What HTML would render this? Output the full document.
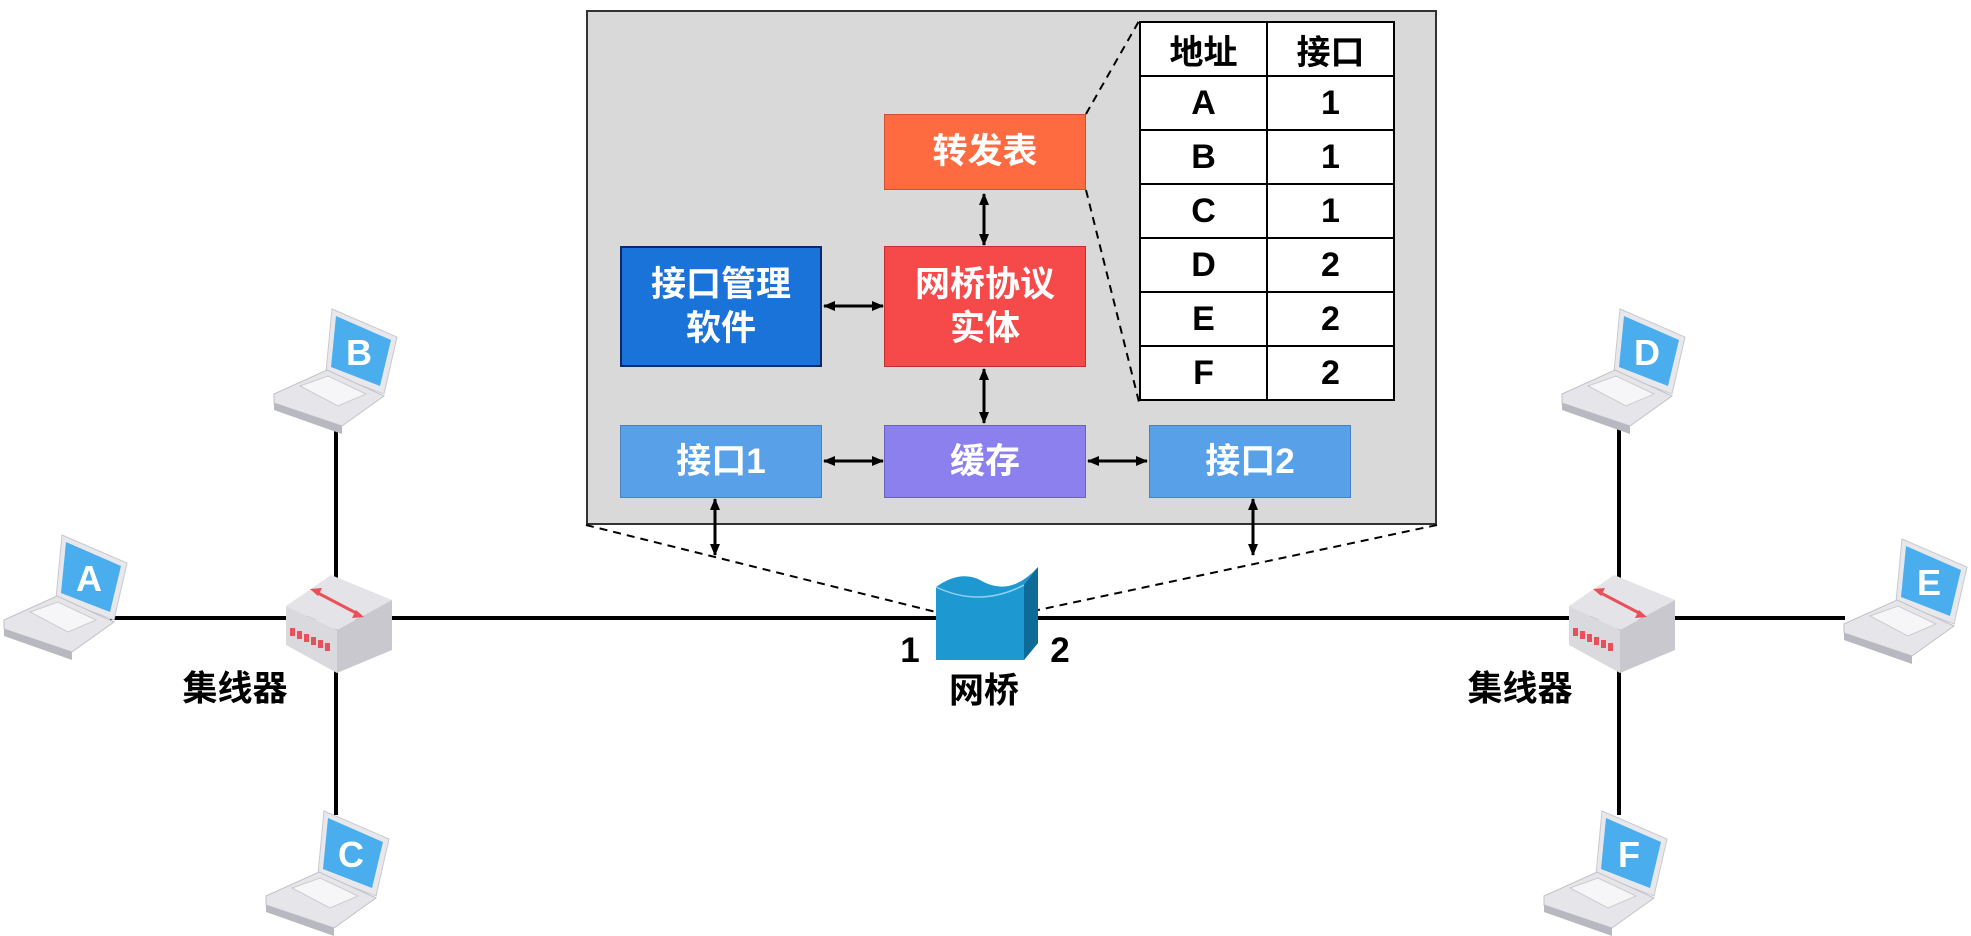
<!DOCTYPE html>
<html><head><meta charset="utf-8"><style>
body{margin:0;background:#fff;width:1971px;height:936px;overflow:hidden;position:relative;font-family:"Liberation Sans","Noto Sans CJK SC",sans-serif;}
.b{position:absolute;color:#fff;font-weight:bold;font-size:35px;display:flex;align-items:center;justify-content:center;text-align:center;line-height:44px;box-sizing:border-box;}
.l{position:absolute;font-weight:bold;font-size:35px;color:#000;transform:translate(-50%,-50%);white-space:nowrap;}
table{position:absolute;left:1139px;top:21px;border-collapse:collapse;background:#fff;}
td{border:2.5px solid #000;width:125px;height:52px;text-align:center;font-weight:bold;font-size:34px;padding:0;}
</style></head><body>
<div style="position:absolute;left:586px;top:10px;width:851px;height:515px;background:#d9d9d9;border:2px solid #333;box-sizing:border-box"></div>
<table>
<tr><td>地址</td><td>接口</td></tr>
<tr><td>A</td><td>1</td></tr>
<tr><td>B</td><td>1</td></tr>
<tr><td>C</td><td>1</td></tr>
<tr><td>D</td><td>2</td></tr>
<tr><td>E</td><td>2</td></tr>
<tr><td>F</td><td>2</td></tr>
</table>
<div class="b" style="left:884px;top:114px;width:202px;height:76px;background:#ff6b40;border:1px solid #d05030">转发表</div>
<div class="b" style="left:620px;top:246px;width:202px;height:121px;background:#1a73d9;border:2px solid #0a2a6a">接口管理<br>软件</div>
<div class="b" style="left:884px;top:246px;width:202px;height:121px;background:#f64a4a;border:1px solid #c03030">网桥协议<br>实体</div>
<div class="b" style="left:620px;top:425px;width:202px;height:73px;background:#58a0e8;border:1px solid #4a80c0">接口1</div>
<div class="b" style="left:884px;top:425px;width:202px;height:73px;background:#8b80ee;border:1px solid #6a60c0">缓存</div>
<div class="b" style="left:1149px;top:425px;width:202px;height:73px;background:#58a0e8;border:1px solid #4a80c0">接口2</div>
<svg style="position:absolute;left:0;top:0" width="1971" height="936">
<defs>
<marker id="a" markerWidth="12" markerHeight="10" refX="11" refY="5" orient="auto-start-reverse" markerUnits="userSpaceOnUse"><path d="M0,0L12,5L0,10z" fill="#000"/></marker>
<g id="lap">
<polygon points="62,3 127,31 114,88 56,66" fill="#e8e8ec" stroke="#c8c8d0"/>
<polygon points="66,10 121,34 110,80 61,61" fill="#4aaeee"/>
<polygon points="4,88 57,64 114,90 72,120 4,97" fill="#e6e6ea" stroke="#c0c0c8"/>
<polygon points="4,97 72,120 72,128 4,104" fill="#b8b8c0"/>
<polygon points="30,80 58,70 96,88 68,100" fill="#f6f6f8" stroke="#ccc"/>
</g>
</defs>
<g stroke="#000" stroke-width="3" fill="none">
<line x1="984" y1="194" x2="984" y2="245" marker-start="url(#a)" marker-end="url(#a)"/>
<line x1="984" y1="369" x2="984" y2="423" marker-start="url(#a)" marker-end="url(#a)"/>
<line x1="824" y1="306" x2="883" y2="306" marker-start="url(#a)" marker-end="url(#a)"/>
<line x1="824" y1="461" x2="883" y2="461" marker-start="url(#a)" marker-end="url(#a)"/>
<line x1="1088" y1="461" x2="1147" y2="461" marker-start="url(#a)" marker-end="url(#a)"/>
<line x1="715" y1="499" x2="715" y2="555" marker-start="url(#a)" marker-end="url(#a)"/>
<line x1="1253" y1="499" x2="1253" y2="555" marker-start="url(#a)" marker-end="url(#a)"/>
</g>
<g stroke="#000" stroke-width="2" stroke-dasharray="8,6">
<line x1="586" y1="525" x2="936" y2="612"/>
<line x1="1437" y1="525" x2="1038" y2="610"/>
<line x1="1086" y1="114" x2="1139" y2="21"/>
<line x1="1086" y1="190" x2="1139" y2="402"/>
</g>
<g stroke="#000" stroke-width="4">
<line x1="110" y1="618" x2="1845" y2="618"/>
<line x1="336" y1="425" x2="336" y2="815"/>
<line x1="1619" y1="425" x2="1619" y2="815"/>
</g>
<g id="hub">
<polygon points="286,606 331,575 392,600 337,630" fill="#e4e4e8"/>
<polygon points="286,606 337,630 337,673 286,645" fill="#dadade"/>
<polygon points="337,630 392,600 392,650 337,673" fill="#c8c8ce"/>
<line x1="316" y1="592" x2="358" y2="614" stroke="#e8505a" stroke-width="3"/>
<polygon points="310,589 322,588 318,596" fill="#e8505a"/><polygon points="364,617 352,618 356,610" fill="#e8505a"/>
<g fill="#e8505a"><rect x="290" y="628" width="5" height="8"/><rect x="297" y="631" width="5" height="8"/><rect x="304" y="634" width="5" height="8"/><rect x="311" y="637" width="5" height="8"/><rect x="318" y="640" width="5" height="8"/><rect x="325" y="643" width="5" height="8"/></g>
</g>
<use href="#hub" x="1283" y="0"/>
<path d="M936,587 Q960,570 980,580 Q1010,598 1038,567 L1038,643 L1024,660 L936,660 Z" fill="#1e98d0"/>
<path d="M1024,585 L1038,567 L1038,643 L1024,660 Z" fill="#0e6a96"/>
<path d="M936,587 Q980,608 1024,585" stroke="#8ed0f0" stroke-width="1.5" fill="none"/>
<use href="#lap" x="0" y="532"/>
<use href="#lap" x="270" y="306"/>
<use href="#lap" x="262" y="808"/>
<use href="#lap" x="1558" y="306"/>
<use href="#lap" x="1840" y="536"/>
<use href="#lap" x="1540" y="808"/>
<g fill="#fff" font-family="Liberation Sans" font-weight="bold" font-size="36" text-anchor="middle">
<text x="89" y="591">A</text>
<text x="359" y="365">B</text>
<text x="351" y="867">C</text>
<text x="1647" y="365">D</text>
<text x="1929" y="595">E</text>
<text x="1629" y="867">F</text>
</g>
</svg>
<div class="l" style="left:910px;top:651px">1</div>
<div class="l" style="left:1060px;top:651px">2</div>
<div class="l" style="left:984px;top:688px">网桥</div>
<div class="l" style="left:235px;top:686px">集线器</div>
<div class="l" style="left:1520px;top:686px">集线器</div>
</body></html>
